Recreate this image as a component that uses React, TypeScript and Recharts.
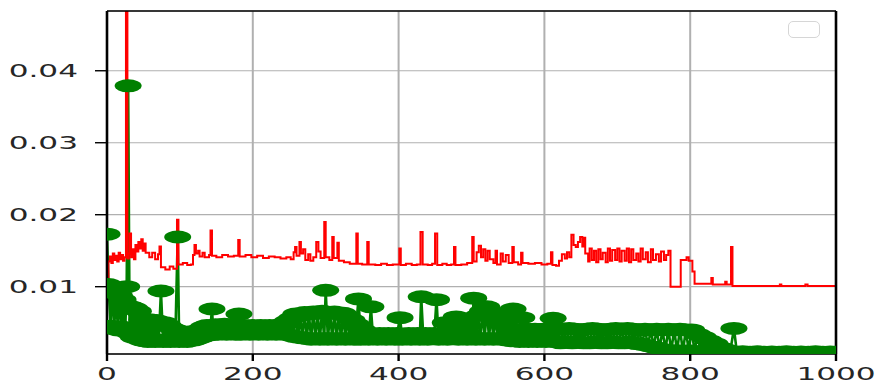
import { CartesianGrid, Legend, Line, LineChart, ReferenceLine, XAxis, YAxis } from "recharts";

// x ticks / y ticks as they appear on the axes
const xTicks = [0, 200, 400, 600, 800, 1000];
const yTicks = [0.01, 0.02, 0.03, 0.04];
const yDomain = [0.00065, 0.0483];

// red series: step change points [x, value]
const redSteps: [number, number][] = [
  [0, 0.0113], [2, 0.0135], [4, 0.0142], [6, 0.0133], [8, 0.0146], [10, 0.0137],
  [12, 0.0143], [14, 0.0135], [16, 0.0147], [18, 0.0138], [20, 0.0144], [22, 0.0136],
  [24, 0.0141], [26, 0.065], [28, 0.0139], [30, 0.0146], [31, 0.0174], [33, 0.0141],
  [35, 0.0152], [37, 0.0138], [39, 0.0158], [41, 0.0149], [43, 0.0162], [45, 0.0153],
  [47, 0.0166], [49, 0.015], [51, 0.016], [53, 0.0147], [58, 0.0141], [62, 0.0147],
  [66, 0.0138], [70, 0.0145], [72, 0.0156], [74, 0.0127], [80, 0.0124], [86, 0.0128],
  [91, 0.0125], [96, 0.0193], [98, 0.0131], [104, 0.0133], [110, 0.013], [115, 0.0131],
  [118, 0.0144], [120, 0.0158], [122, 0.0146], [125, 0.015], [127, 0.0142], [131, 0.0147],
  [134, 0.0141], [140, 0.0144], [142, 0.0178], [144, 0.0143], [150, 0.0141], [158, 0.0144],
  [166, 0.0142], [174, 0.0143], [180, 0.0165], [182, 0.0142], [190, 0.0144], [198, 0.0141],
  [206, 0.0143], [214, 0.014], [222, 0.0142], [230, 0.0141], [238, 0.0139], [246, 0.0141],
  [252, 0.0138], [256, 0.0148], [258, 0.0155], [260, 0.0143], [264, 0.0162], [266, 0.0146],
  [269, 0.0152], [272, 0.0137], [276, 0.0145], [279, 0.0136], [283, 0.0141], [287, 0.0162],
  [290, 0.0149], [293, 0.014], [298, 0.019], [300, 0.0141], [305, 0.0137], [309, 0.0169],
  [311, 0.014], [316, 0.0161], [318, 0.0136], [325, 0.0134], [333, 0.0132], [342, 0.0174],
  [344, 0.0132], [350, 0.0131], [357, 0.0162], [359, 0.0131], [368, 0.013], [376, 0.0132],
  [384, 0.013], [392, 0.0131], [401, 0.0153], [403, 0.013], [410, 0.0132], [418, 0.013],
  [425, 0.0131], [430, 0.0176], [433, 0.0131], [440, 0.013], [446, 0.0132], [450, 0.0174],
  [453, 0.013], [460, 0.0132], [466, 0.013], [472, 0.0131], [476, 0.0155], [478, 0.013],
  [486, 0.0131], [494, 0.0133], [501, 0.0169], [503, 0.0135], [507, 0.0148], [510, 0.0157],
  [513, 0.0141], [516, 0.0152], [519, 0.0136], [522, 0.015], [525, 0.0138], [530, 0.0133],
  [533, 0.015], [535, 0.0131], [540, 0.0146], [543, 0.0135], [547, 0.0144], [551, 0.0133],
  [556, 0.0155], [558, 0.0134], [564, 0.0131], [568, 0.0147], [570, 0.0133], [578, 0.0132],
  [587, 0.0133], [596, 0.0131], [604, 0.0132], [609, 0.0148], [611, 0.013], [616, 0.0129],
  [620, 0.0136], [624, 0.0145], [628, 0.0139], [631, 0.0148], [634, 0.0141], [637, 0.0172],
  [640, 0.0158], [643, 0.0155], [646, 0.0162], [649, 0.0169], [652, 0.0156], [654, 0.0168],
  [656, 0.0146], [660, 0.0135], [662, 0.0153], [665, 0.0137], [668, 0.015], [671, 0.0134],
  [674, 0.0152], [677, 0.0138], [680, 0.0147], [684, 0.0134], [687, 0.0153], [690, 0.0136],
  [693, 0.0151], [697, 0.0137], [700, 0.0153], [703, 0.0135], [706, 0.015], [710, 0.0136],
  [713, 0.0153], [716, 0.0134], [719, 0.0152], [722, 0.0137], [726, 0.0146], [729, 0.0135],
  [732, 0.0153], [735, 0.0138], [739, 0.0148], [742, 0.0134], [746, 0.0152], [749, 0.0137],
  [753, 0.0145], [757, 0.0135], [760, 0.0149], [764, 0.0137], [767, 0.0144], [770, 0.015],
  [773, 0.01], [787, 0.0137], [795, 0.0141], [798, 0.0136], [803, 0.0121], [806, 0.0104],
  [829, 0.0112], [831, 0.0103], [848, 0.0107], [850, 0.0103], [856, 0.0155], [858, 0.0101],
  [923, 0.0103], [925, 0.0101], [958, 0.0103], [961, 0.0101], [1000, 0.0101],
];

// green series: points [x, value], drawn with large round markers
const greenPoints: [number, number][] = [
  [0, 0.0173], [2, 0.0103], [5, 0.0045], [7, 0.01], [10, 0.0042], [12, 0.0095],
  [15, 0.004], [17, 0.0088], [20, 0.0044], [22, 0.0082], [25, 0.004], [27, 0.01],
  [29, 0.0379], [31, 0.0035], [33, 0.0072], [36, 0.003], [38, 0.007], [41, 0.0032],
  [43, 0.0066], [46, 0.0026], [48, 0.0054], [51, 0.0025], [53, 0.0052], [56, 0.0024],
  [58, 0.0054], [61, 0.0025], [63, 0.005], [66, 0.0024], [68, 0.0053], [71, 0.0026],
  [74, 0.0094], [77, 0.0024], [79, 0.005], [82, 0.0025], [84, 0.0046], [87, 0.0024],
  [89, 0.0042], [92, 0.0025], [94, 0.004], [97, 0.0169], [99, 0.0024], [102, 0.0037],
  [105, 0.0025], [107, 0.0036], [110, 0.0024], [112, 0.0037], [115, 0.0026], [117, 0.0036],
  [120, 0.0026], [122, 0.0038], [125, 0.0028], [127, 0.004], [130, 0.003], [132, 0.0044],
  [135, 0.0032], [137, 0.0046], [140, 0.0033], [142, 0.0045], [144, 0.0069], [146, 0.0034],
  [149, 0.0047], [152, 0.0034], [155, 0.0046], [158, 0.0035], [161, 0.0048], [164, 0.0034],
  [167, 0.0046], [170, 0.0035], [173, 0.0047], [176, 0.0034], [178, 0.0045], [181, 0.0062],
  [184, 0.0034], [187, 0.0046], [190, 0.0035], [193, 0.0044], [196, 0.0034], [199, 0.0046],
  [202, 0.0035], [205, 0.0044], [208, 0.0034], [211, 0.0046], [214, 0.0035], [217, 0.0045],
  [220, 0.0034], [223, 0.0046], [226, 0.0035], [229, 0.0044], [232, 0.0034], [235, 0.0046],
  [238, 0.0035], [241, 0.0048], [244, 0.0034], [247, 0.0052], [250, 0.0033], [253, 0.0056],
  [256, 0.0031], [259, 0.0062], [262, 0.003], [265, 0.006], [268, 0.0029], [271, 0.0064],
  [274, 0.0028], [277, 0.0062], [280, 0.0027], [283, 0.0065], [286, 0.0028], [289, 0.0063],
  [292, 0.0027], [295, 0.0066], [298, 0.0028], [300, 0.0095], [303, 0.0027], [306, 0.0064],
  [309, 0.0028], [312, 0.0065], [315, 0.0027], [318, 0.0062], [321, 0.0028], [324, 0.0063],
  [327, 0.0027], [330, 0.0058], [333, 0.0028], [336, 0.0054], [339, 0.0027], [342, 0.0048],
  [345, 0.0083], [348, 0.0027], [351, 0.004], [354, 0.0028], [357, 0.0034], [359, 0.0027],
  [362, 0.0072], [365, 0.0028], [368, 0.0034], [371, 0.0027], [374, 0.0035], [377, 0.0028],
  [380, 0.0034], [383, 0.0027], [386, 0.0035], [389, 0.0028], [392, 0.0034], [395, 0.0027],
  [398, 0.0035], [402, 0.0057], [405, 0.0027], [408, 0.0034], [411, 0.0028], [414, 0.0035],
  [417, 0.0027], [420, 0.0034], [423, 0.0028], [426, 0.0035], [429, 0.0027], [431, 0.0086],
  [434, 0.0028], [437, 0.0035], [440, 0.0027], [443, 0.0034], [446, 0.0028], [449, 0.0035],
  [452, 0.0082], [455, 0.0027], [458, 0.0034], [461, 0.0028], [464, 0.005], [467, 0.0027],
  [470, 0.0034], [473, 0.0028], [476, 0.0035], [479, 0.0058], [482, 0.0027], [485, 0.0034],
  [488, 0.0028], [491, 0.0048], [494, 0.0027], [497, 0.0034], [500, 0.0028], [503, 0.0084],
  [506, 0.0027], [509, 0.006], [512, 0.0028], [515, 0.0066], [518, 0.0027], [521, 0.0072],
  [524, 0.0028], [527, 0.0064], [530, 0.0027], [533, 0.0062], [536, 0.0028], [539, 0.0055],
  [542, 0.0027], [545, 0.0048], [548, 0.0026], [551, 0.0042], [554, 0.0025], [557, 0.0069],
  [560, 0.0025], [563, 0.004], [566, 0.0024], [569, 0.0057], [572, 0.0025], [575, 0.0041],
  [578, 0.0024], [581, 0.004], [584, 0.0025], [587, 0.0041], [590, 0.0024], [593, 0.004],
  [596, 0.0025], [599, 0.0041], [602, 0.0024], [605, 0.004], [608, 0.0025], [612, 0.0056],
  [615, 0.0024], [618, 0.0041], [622, 0.0022], [626, 0.0041], [630, 0.0023], [634, 0.0042],
  [638, 0.0022], [642, 0.0041], [646, 0.0023], [650, 0.004], [654, 0.0022], [658, 0.0041],
  [662, 0.0022], [666, 0.0042], [670, 0.0023], [674, 0.0041], [678, 0.0022], [682, 0.004],
  [686, 0.0022], [690, 0.0041], [694, 0.0023], [698, 0.0042], [702, 0.0022], [706, 0.0041],
  [710, 0.0022], [714, 0.0042], [718, 0.0023], [722, 0.0041], [726, 0.0021], [730, 0.004],
  [734, 0.002], [738, 0.0041], [742, 0.0018], [746, 0.004], [750, 0.0016], [754, 0.0041],
  [758, 0.0014], [762, 0.004], [766, 0.0012], [770, 0.0041], [774, 0.0011], [778, 0.004],
  [782, 0.0011], [786, 0.0041], [790, 0.001], [794, 0.004], [798, 0.0011], [802, 0.004],
  [806, 0.001], [810, 0.0034], [814, 0.001], [818, 0.003], [822, 0.001], [826, 0.0025],
  [830, 0.001], [834, 0.0021], [838, 0.001], [842, 0.0015], [846, 0.001], [850, 0.0012],
  [855, 0.001], [860, 0.0042], [864, 0.0009], [872, 0.00095], [882, 0.0009], [892, 0.00095],
  [902, 0.0009], [912, 0.00093], [922, 0.0009], [932, 0.00095], [942, 0.0009], [952, 0.00093],
  [962, 0.0009], [972, 0.00095], [982, 0.0009], [992, 0.00093], [1000, 0.0009],
];

const redData = redSteps.map(([x, v]) => ({ x, v }));
const greenData = greenPoints.map(([x, v]) => ({ x, v }));

const FONT = "'DejaVu Sans', sans-serif";

function YTick({ x, y, payload }: any) {
  return (
    <g transform={`translate(${x},${y})`}>
      <text transform="scale(1.78,1)" textAnchor="end" dy="0.36em" fontSize={17.5} fontFamily={FONT} fill="#262626">
        {Number(payload.value).toFixed(2)}
      </text>
    </g>
  );
}

function XTick({ x, y, payload }: any) {
  return (
    <g transform={`translate(${x},${y})`}>
      <text transform="scale(1.78,1)" textAnchor="middle" dy={19.5} fontSize={17.5} fontFamily={FONT} fill="#262626">
        {payload.value}
      </text>
    </g>
  );
}

function GreenDot(props: any) {
  const { cx, cy, index } = props;
  if (cx == null || cy == null) return <g key={`g-${index}`} />;
  return <ellipse key={`g-${index}`} cx={cx} cy={cy} rx={13.5} ry={6.5} fill="#008000" />;
}

function EmptyLegend() {
  return (
    <div
      style={{
        width: 30,
        height: 15,
        border: "1.5px solid #d6d6d6",
        borderRadius: 5,
        background: "#fff",
      }}
    />
  );
}

export default function App() {
  return (
    <div style={{ position: "absolute", left: 0, top: 0, width: 876, height: 385, background: "#fff" }}>
      <LineChart width={876} height={385} margin={{ top: 11, right: 40, bottom: 0, left: 0 }}>
        <CartesianGrid vertical={false} stroke="#b0b0b0" strokeWidth={1.2} />
        <CartesianGrid horizontal={false} stroke="#b0b0b0" strokeWidth={2} />
        <XAxis
          dataKey="x"
          type="number"
          domain={[0, 1000]}
          ticks={xTicks}
          allowDataOverflow
          height={31}
          tickSize={7}
          tickMargin={0}
          axisLine={{ stroke: "#000", strokeWidth: 1.6 }}
          tickLine={{ stroke: "#000", strokeWidth: 2.4 }}
          tick={<XTick />}
        />
        <YAxis
          type="number"
          domain={yDomain}
          ticks={yTicks}
          allowDataOverflow
          width={107}
          tickSize={12}
          tickMargin={17}
          axisLine={{ stroke: "#000", strokeWidth: 2.6 }}
          tickLine={{ stroke: "#000", strokeWidth: 1.4 }}
          tick={<YTick />}
        />
        <Line
          data={greenData}
          dataKey="v"
          type="linear"
          stroke="#008000"
          strokeWidth={2.6}
          dot={GreenDot}
          activeDot={false}
          isAnimationActive={false}
          legendType="none"
        />
        <Line
          data={redData}
          dataKey="v"
          type="stepAfter"
          stroke="#ff0000"
          strokeWidth={2}
          dot={false}
          activeDot={false}
          isAnimationActive={false}
          legendType="none"
        />
        <ReferenceLine y={yDomain[1]} stroke="#000" strokeWidth={1.6} />
        <ReferenceLine x={1000} stroke="#000" strokeWidth={2.6} />
        <Legend
          layout="vertical"
          align="center"
          verticalAlign="middle"
          content={<EmptyLegend />}
          wrapperStyle={{ top: 21, left: 788, width: 33, height: 18 }}
        />
      </LineChart>
    </div>
  );
}
